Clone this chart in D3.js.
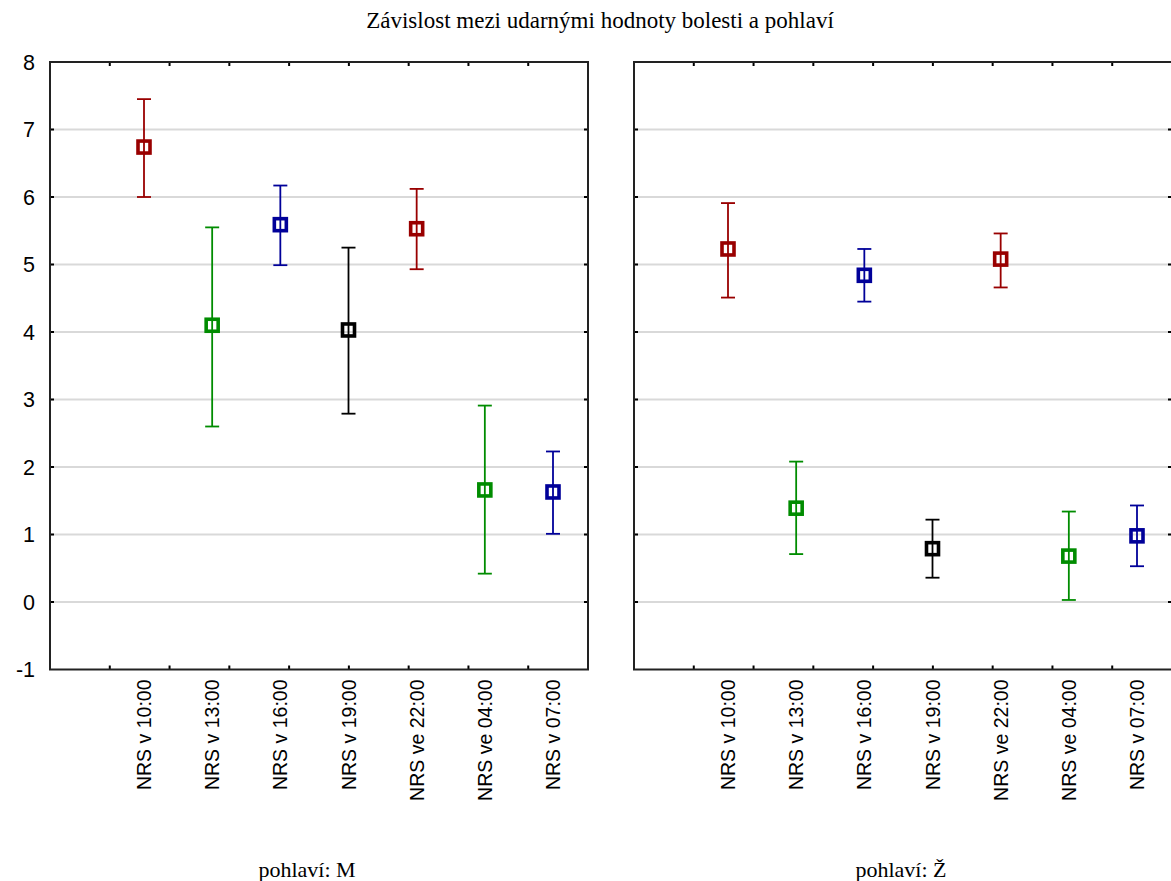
<!DOCTYPE html>
<html>
<head>
<meta charset="utf-8">
<script src="https://cdn.jsdelivr.net/npm/d3@7"></script>
<style>
  html, body { margin: 0; padding: 0; background: #fff; }
  svg { display: block; }
</style>
</head>
<body>
<svg id="chart" width="1171" height="881"></svg>
<script>
// Time points of the NRS pain score measurements
const categories = ["NRS v 10:00", "NRS v 13:00", "NRS v 16:00", "NRS v 19:00", "NRS ve 22:00", "NRS ve 04:00", "NRS v 07:00"];
const pointColors = ["#990000", "#008c00", "#000099", "#000000", "#990000", "#008c00", "#000099"];

// pohlaví: M — means and interval bounds
const meanM = [6.74, 4.10, 5.59, 4.03, 5.53, 1.66, 1.63];
const lowM  = [6.00, 2.60, 4.99, 2.79, 4.93, 0.42, 1.01];
const highM = [7.45, 5.55, 6.17, 5.25, 6.12, 2.91, 2.23];

// pohlaví: Ž — means and interval bounds
const meanF = [5.23, 1.39, 4.84, 0.79, 5.08, 0.68, 0.98];
const lowF  = [4.51, 0.71, 4.45, 0.36, 4.66, 0.03, 0.53];
const highF = [5.91, 2.08, 5.23, 1.22, 5.46, 1.34, 1.43];

const yTicks = [-1, 0, 1, 2, 3, 4, 5, 6, 7, 8];
const gridValues = [0, 1, 2, 3, 4, 5, 6, 7];
const panelTitles = ["pohlaví: M", "pohlaví: Ž"];
const chartTitle = "Závislost mezi udarnými hodnoty bolesti a pohlaví";

const svg = d3.select("#chart");

const panelW = 538;
const plotTop = 62, plotBottom = 669.5;
const panelLefts = [50, 634];

const y = d3.scaleLinear().domain([-1, 8]).range([plotBottom, plotTop]);
const x = d3.scalePoint().domain(categories).range([94, 503]);
const frameX = d3.scaleLinear().domain([0, 9]).range([0, panelW]);

svg.append("text")
  .attr("x", 600).attr("y", 28)
  .attr("text-anchor", "middle")
  .attr("font-family", "'Liberation Serif', 'Times New Roman', serif")
  .attr("font-size", 23)
  .attr("fill", "#000")
  .text(chartTitle);

const panels = [
  { mean: meanM, low: lowM, high: highM },
  { mean: meanF, low: lowF, high: highF }
];

panels.forEach((p, pi) => {
  const g = svg.append("g").attr("transform", `translate(${panelLefts[pi]},0)`);

  // horizontal grid lines
  g.selectAll("line.grid").data(gridValues).enter().append("line")
    .attr("class", "grid")
    .attr("x1", 0).attr("x2", panelW)
    .attr("y1", d => y(d)).attr("y2", d => y(d))
    .attr("stroke", "#d9d9d9").attr("stroke-width", 2);

  // inward ticks on the left and right frame sides
  const yIn = yTicks.filter(d => d > -1 && d < 8);
  g.selectAll("line.ytl").data(yIn).enter().append("line")
    .attr("x1", 0).attr("x2", 4)
    .attr("y1", d => y(d)).attr("y2", d => y(d))
    .attr("stroke", "#000").attr("stroke-width", 2);
  g.selectAll("line.ytr").data(yIn).enter().append("line")
    .attr("x1", panelW - 4).attr("x2", panelW)
    .attr("y1", d => y(d)).attr("y2", d => y(d))
    .attr("stroke", "#000").attr("stroke-width", 2);

  // inward ticks on the top and bottom frame sides
  const xt = d3.range(1, 9);
  g.selectAll("line.xtt").data(xt).enter().append("line")
    .attr("x1", d => frameX(d)).attr("x2", d => frameX(d))
    .attr("y1", plotTop).attr("y2", plotTop + 4)
    .attr("stroke", "#000").attr("stroke-width", 2);
  g.selectAll("line.xtb").data(xt).enter().append("line")
    .attr("x1", d => frameX(d)).attr("x2", d => frameX(d))
    .attr("y1", plotBottom - 4).attr("y2", plotBottom)
    .attr("stroke", "#000").attr("stroke-width", 2);

  // frame
  g.append("rect")
    .attr("x", 0).attr("y", plotTop)
    .attr("width", panelW).attr("height", plotBottom - plotTop)
    .attr("fill", "none").attr("stroke", "#222").attr("stroke-width", 2);

  // error bars
  const idx = d3.range(categories.length);
  const capHalf = 7;
  const eb = g.selectAll("g.eb").data(idx).enter().append("g").attr("class", "eb");
  eb.append("line")
    .attr("x1", i => x(categories[i])).attr("x2", i => x(categories[i]))
    .attr("y1", i => y(p.low[i])).attr("y2", i => y(p.high[i]))
    .attr("stroke", i => pointColors[i]).attr("stroke-width", 1.8);
  eb.append("line")
    .attr("x1", i => x(categories[i]) - capHalf).attr("x2", i => x(categories[i]) + capHalf)
    .attr("y1", i => y(p.high[i])).attr("y2", i => y(p.high[i]))
    .attr("stroke", i => pointColors[i]).attr("stroke-width", 1.8);
  eb.append("line")
    .attr("x1", i => x(categories[i]) - capHalf).attr("x2", i => x(categories[i]) + capHalf)
    .attr("y1", i => y(p.low[i])).attr("y2", i => y(p.low[i]))
    .attr("stroke", i => pointColors[i]).attr("stroke-width", 1.8);

  // mean markers (hollow squares)
  const s = 12;
  eb.append("rect")
    .attr("x", i => x(categories[i]) - s / 2)
    .attr("y", i => y(p.mean[i]) - s / 2)
    .attr("width", s).attr("height", s)
    .attr("fill", "none")
    .attr("stroke", i => pointColors[i]).attr("stroke-width", 3.6);

  // category labels, rotated
  g.selectAll("text.cat").data(categories).enter().append("text")
    .attr("class", "cat")
    .attr("transform", d => `translate(${x(d) + 7},${plotBottom + 10}) rotate(-90)`)
    .attr("text-anchor", "end")
    .attr("font-family", "'Liberation Sans', Arial, sans-serif")
    .attr("font-size", 19.5)
    .attr("fill", "#000")
    .text(d => d);

  // panel caption
  g.append("text")
    .attr("x", panelW / 2 - (pi === 0 ? 12 : 2)).attr("y", 877)
    .attr("text-anchor", "middle")
    .attr("font-family", "'Liberation Serif', 'Times New Roman', serif")
    .attr("font-size", 22)
    .attr("fill", "#000")
    .text(panelTitles[pi]);
});

// y tick labels on the left panel
svg.selectAll("text.ylab").data(yTicks).enter().append("text")
  .attr("x", 35).attr("y", d => y(d) + 7.5)
  .attr("text-anchor", "end")
  .attr("font-family", "'Liberation Sans', Arial, sans-serif")
  .attr("font-size", 21.5)
  .attr("fill", "#000")
  .text(d => d);
</script>
</body>
</html>
